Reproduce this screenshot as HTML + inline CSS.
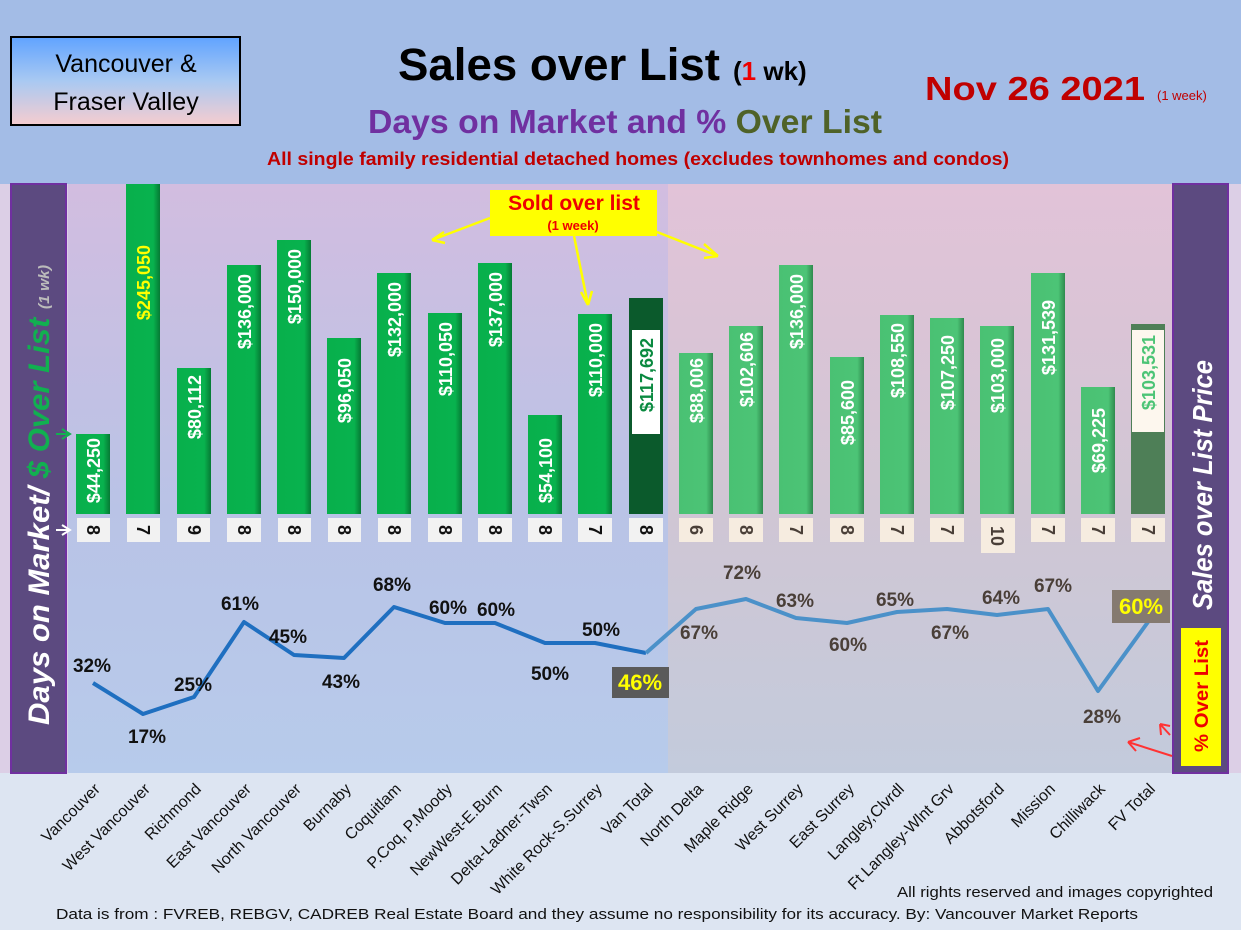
<!DOCTYPE html>
<html><head><meta charset="utf-8"><style>
html,body{margin:0;padding:0;width:1241px;height:930px;overflow:hidden;background:#dde5f2}
svg{display:block;font-family:"Liberation Sans",sans-serif}
.v{font-size:18px;font-weight:bold;fill:#fff}
.d{font-size:18px;font-weight:bold;fill:#111}
.p{font-size:19px;font-weight:bold;fill:#111}
.q{font-size:19px;font-weight:bold;fill:#4a3f38}
.l{font-size:16px;fill:#111}
</style></head><body>
<svg width="1241" height="930" viewBox="0 0 1241 930">
<defs>
<linearGradient id="hb" x1="0" y1="0" x2="0" y2="1"><stop offset="0" stop-color="#60a3ff"/><stop offset="0.5" stop-color="#a9c9f2"/><stop offset="1" stop-color="#f6cccf"/></linearGradient>
<linearGradient id="lp" x1="0" y1="0" x2="0" y2="1"><stop offset="0" stop-color="#d2bde0"/><stop offset="0.55" stop-color="#b9c3e6"/><stop offset="1" stop-color="#b7cbeb"/></linearGradient>
<linearGradient id="rp" x1="0" y1="0" x2="0" y2="1"><stop offset="0" stop-color="#e2c3d8"/><stop offset="0.55" stop-color="#d0c6d4"/><stop offset="1" stop-color="#c3cbdc"/></linearGradient>
<linearGradient id="g1" x1="0" y1="0" x2="1" y2="0"><stop offset="0" stop-color="#08b04c"/><stop offset="0.8" stop-color="#08b24e"/><stop offset="1" stop-color="#067a34"/></linearGradient>
<linearGradient id="g2" x1="0" y1="0" x2="1" y2="0"><stop offset="0" stop-color="#4ac173"/><stop offset="0.8" stop-color="#4cc476"/><stop offset="1" stop-color="#2f8a4e"/></linearGradient>
</defs>
<rect x="0" y="0" width="1241" height="184" fill="#a3bce6"/>
<rect x="0" y="184" width="1241" height="590" fill="#dccfe6"/>
<rect x="68" y="184" width="600" height="589" fill="url(#lp)"/>
<rect x="668" y="184" width="505" height="589" fill="url(#rp)"/>
<rect x="0" y="773" width="1241" height="157" fill="#dde5f2"/>

<rect x="11" y="37" width="229" height="88" fill="url(#hb)" stroke="#000" stroke-width="2"/>
<text x="126" y="72" font-size="25" text-anchor="middle">Vancouver &amp;</text>
<text x="126" y="110" font-size="25" text-anchor="middle">Fraser Valley</text>
<text x="398" y="80" font-size="45" font-weight="bold" textLength="322" lengthAdjust="spacingAndGlyphs">Sales over List</text>
<text x="733" y="80" font-size="26" font-weight="bold">(<tspan fill="#e00">1</tspan> wk)</text>
<text x="368" y="133" font-size="33" font-weight="bold" fill="#7030a0" textLength="514" lengthAdjust="spacingAndGlyphs">Days on Market and % <tspan fill="#4f6228">Over List</tspan></text>
<text x="267" y="165" font-size="18" font-weight="bold" fill="#c00000" textLength="742" lengthAdjust="spacingAndGlyphs">All single family residential detached homes (excludes townhomes and condos)</text>
<text x="925" y="100" font-size="33" font-weight="bold" fill="#c00000" textLength="220" lengthAdjust="spacingAndGlyphs">Nov 26  2021</text>
<text x="1157" y="100" font-size="13" fill="#c00000">(1 week)</text>

<rect x="11" y="184" width="55" height="589" fill="#5c4a80" stroke="#7030a0" stroke-width="2"/>
<text transform="translate(49,725) rotate(-90)" font-size="30" font-weight="bold" font-style="italic" fill="#fff" textLength="460" lengthAdjust="spacingAndGlyphs">Days on Market/ <tspan fill="#11b050">$ Over List</tspan> <tspan font-size="15" fill="#bbb">(1 wk)</tspan></text>
<rect x="1173" y="184" width="55" height="589" fill="#5c4a80" stroke="#7030a0" stroke-width="2"/>
<text transform="translate(1212,610) rotate(-90)" font-size="28" font-weight="bold" font-style="italic" fill="#fff" textLength="250" lengthAdjust="spacingAndGlyphs">Sales over List Price</text>
<rect x="1181" y="628" width="40" height="138" fill="#ffff00"/>
<text transform="translate(1208,752) rotate(-90)" font-size="19" font-weight="bold" fill="#e00" textLength="112" lengthAdjust="spacingAndGlyphs">% Over List</text>
<path d="M1172 756 L1128 742 M1128 742 L1140 738 M1128 742 L1136 751 M1170 735 L1160 724 M1160 724 L1161 735 M1160 724 L1170 726" stroke="#f33" stroke-width="2" fill="none"/>
<path d="M56 434 L70 434 M62 429 L70 434 L62 439" stroke="#11b050" stroke-width="2" fill="none"/>
<path d="M56 530 L70 530 M62 525 L70 530 L62 535" stroke="#fff" stroke-width="2" fill="none"/>

<g>
<rect x="76" y="434" width="34" height="80" fill="url(#g1)"/>
<rect x="126" y="184" width="34" height="330" fill="url(#g1)"/>
<rect x="177" y="368" width="34" height="146" fill="url(#g1)"/>
<rect x="227" y="265" width="34" height="249" fill="url(#g1)"/>
<rect x="277" y="240" width="34" height="274" fill="url(#g1)"/>
<rect x="327" y="338" width="34" height="176" fill="url(#g1)"/>
<rect x="377" y="273" width="34" height="241" fill="url(#g1)"/>
<rect x="428" y="313" width="34" height="201" fill="url(#g1)"/>
<rect x="478" y="263" width="34" height="251" fill="url(#g1)"/>
<rect x="528" y="415" width="34" height="99" fill="url(#g1)"/>
<rect x="578" y="314" width="34" height="200" fill="url(#g1)"/>
<rect x="629" y="298" width="34" height="216" fill="#0b5a2c"/>
<rect x="679" y="353" width="34" height="161" fill="url(#g2)"/>
<rect x="729" y="326" width="34" height="188" fill="url(#g2)"/>
<rect x="779" y="265" width="34" height="249" fill="url(#g2)"/>
<rect x="830" y="357" width="34" height="157" fill="url(#g2)"/>
<rect x="880" y="315" width="34" height="199" fill="url(#g2)"/>
<rect x="930" y="318" width="34" height="196" fill="url(#g2)"/>
<rect x="980" y="326" width="34" height="188" fill="url(#g2)"/>
<rect x="1031" y="273" width="34" height="241" fill="url(#g2)"/>
<rect x="1081" y="387" width="34" height="127" fill="url(#g2)"/>
<rect x="1131" y="324" width="34" height="190" fill="#4e7f57"/>
<rect x="632" y="330" width="28" height="104" fill="#fff"/>
<rect x="1132" y="330" width="32" height="102" fill="#fdf7ee"/>
</g>
<g class="v">
<text transform="translate(100,438) rotate(-90)" text-anchor="end">$44,250</text>
<text transform="translate(150,245) rotate(-90)" text-anchor="end" fill="#ffff00">$245,050</text>
<text transform="translate(201,375) rotate(-90)" text-anchor="end">$80,112</text>
<text transform="translate(251,274) rotate(-90)" text-anchor="end">$136,000</text>
<text transform="translate(301,249) rotate(-90)" text-anchor="end">$150,000</text>
<text transform="translate(351,358) rotate(-90)" text-anchor="end">$96,050</text>
<text transform="translate(401,282) rotate(-90)" text-anchor="end">$132,000</text>
<text transform="translate(452,322) rotate(-90)" text-anchor="end">$110,050</text>
<text transform="translate(502,272) rotate(-90)" text-anchor="end">$137,000</text>
<text transform="translate(552,438) rotate(-90)" text-anchor="end">$54,100</text>
<text transform="translate(602,323) rotate(-90)" text-anchor="end">$110,000</text>
<text transform="translate(653,338) rotate(-90)" text-anchor="end" fill="#0a8a40">$117,692</text>
<text transform="translate(703,358) rotate(-90)" text-anchor="end">$88,006</text>
<text transform="translate(753,332) rotate(-90)" text-anchor="end">$102,606</text>
<text transform="translate(803,274) rotate(-90)" text-anchor="end">$136,000</text>
<text transform="translate(854,380) rotate(-90)" text-anchor="end">$85,600</text>
<text transform="translate(904,323) rotate(-90)" text-anchor="end">$108,550</text>
<text transform="translate(954,335) rotate(-90)" text-anchor="end">$107,250</text>
<text transform="translate(1004,338) rotate(-90)" text-anchor="end">$103,000</text>
<text transform="translate(1055,300) rotate(-90)" text-anchor="end">$131,539</text>
<text transform="translate(1105,408) rotate(-90)" text-anchor="end">$69,225</text>
<text transform="translate(1155,335) rotate(-90)" text-anchor="end" fill="#4cc476">$103,531</text>
</g>

<g fill="#f2f2f2">
<rect x="77" y="518" width="33" height="24"/><rect x="127" y="518" width="33" height="24"/><rect x="177" y="518" width="33" height="24"/><rect x="227" y="518" width="34" height="24"/><rect x="278" y="518" width="33" height="24"/><rect x="328" y="518" width="33" height="24"/><rect x="378" y="518" width="33" height="24"/><rect x="428" y="518" width="34" height="24"/><rect x="478" y="518" width="34" height="24"/><rect x="528" y="518" width="34" height="24"/><rect x="578" y="518" width="34" height="24"/><rect x="629" y="518" width="34" height="24"/>
</g>
<g fill="#f6ece0">
<rect x="679" y="518" width="34" height="24"/><rect x="729" y="518" width="34" height="24"/><rect x="779" y="518" width="34" height="24"/><rect x="830" y="518" width="34" height="24"/><rect x="880" y="518" width="34" height="24"/><rect x="930" y="518" width="34" height="24"/><rect x="981" y="518" width="34" height="35"/><rect x="1031" y="518" width="34" height="24"/><rect x="1081" y="518" width="34" height="24"/><rect x="1131" y="518" width="34" height="24"/>
</g>
<g class="d" text-anchor="middle">
<text transform="translate(87,530) rotate(90)">8</text>
<text transform="translate(137,530) rotate(90)">7</text>
<text transform="translate(188,530) rotate(90)">9</text>
<text transform="translate(238,530) rotate(90)">8</text>
<text transform="translate(288,530) rotate(90)">8</text>
<text transform="translate(338,530) rotate(90)">8</text>
<text transform="translate(388,530) rotate(90)">8</text>
<text transform="translate(439,530) rotate(90)">8</text>
<text transform="translate(489,530) rotate(90)">8</text>
<text transform="translate(539,530) rotate(90)">8</text>
<text transform="translate(589,530) rotate(90)">7</text>
<text transform="translate(640,530) rotate(90)">8</text>
<text transform="translate(690,530) rotate(90)" fill="#4a3f38">6</text>
<text transform="translate(740,530) rotate(90)" fill="#4a3f38">8</text>
<text transform="translate(790,530) rotate(90)" fill="#4a3f38">7</text>
<text transform="translate(841,530) rotate(90)" fill="#4a3f38">8</text>
<text transform="translate(891,530) rotate(90)" fill="#4a3f38">7</text>
<text transform="translate(941,530) rotate(90)" fill="#4a3f38">7</text>
<text transform="translate(991,536) rotate(90)" fill="#4a3f38">10</text>
<text transform="translate(1042,530) rotate(90)" fill="#4a3f38">7</text>
<text transform="translate(1092,530) rotate(90)" fill="#4a3f38">7</text>
<text transform="translate(1142,530) rotate(90)" fill="#4a3f38">7</text>
</g>

<polyline points="93,683 143,714 194,697 244,622 294,655 344,658 394,607 445,623 495,623 545,643 595,643 646,653" fill="none" stroke="#1f6fc0" stroke-width="4" stroke-linejoin="round"/>
<polyline points="646,653 696,609 746,599 796,618 847,623 897,612 947,609 997,615 1048,609 1098,691 1148,622" fill="none" stroke="#4b91c9" stroke-width="4" stroke-linejoin="round"/>
<rect x="612" y="667" width="57" height="31" fill="#5a5a5a"/>
<rect x="1112" y="590" width="58" height="33" fill="#857a70"/>
<g class="p" text-anchor="middle">
<text x="92" y="672">32%</text><text x="147" y="743">17%</text><text x="193" y="691">25%</text><text x="240" y="610">61%</text><text x="288" y="643">45%</text><text x="341" y="688">43%</text><text x="392" y="591">68%</text><text x="448" y="614">60%</text><text x="496" y="616">60%</text><text x="550" y="680">50%</text><text x="601" y="636">50%</text>
<text x="640" y="690" fill="#ffff00" font-size="22">46%</text>
</g>
<g class="q" text-anchor="middle">
<text x="699" y="639">67%</text><text x="742" y="579">72%</text><text x="795" y="607">63%</text><text x="848" y="651">60%</text><text x="895" y="606">65%</text><text x="950" y="639">67%</text><text x="1001" y="604">64%</text><text x="1053" y="592">67%</text><text x="1102" y="723">28%</text>
<text x="1141" y="614" fill="#ffff00" font-size="22">60%</text>
</g>

<rect x="490" y="190" width="167" height="46" fill="#ffff00"/>
<text x="574" y="210" font-size="21" font-weight="bold" fill="#e00" text-anchor="middle">Sold over list</text>
<text x="573" y="230" font-size="13" font-weight="bold" fill="#e00" text-anchor="middle">(1 week)</text>
<g stroke="#ffff00" stroke-width="2.5" fill="none">
<path d="M490 218 L432 240 M432 240 L444 232 M432 240 L445 243"/>
<path d="M574 236 L588 305 M588 305 L581 292 M588 305 L592 291"/>
<path d="M657 232 L718 256 M718 256 L704 244 M718 256 L704 258"/>
</g>

<g class="l" text-anchor="end">
<text transform="translate(101,790) rotate(-45)">Vancouver</text>
<text transform="translate(151,790) rotate(-45)">West Vancouver</text>
<text transform="translate(202,790) rotate(-45)">Richmond</text>
<text transform="translate(252,790) rotate(-45)">East Vancouver</text>
<text transform="translate(302,790) rotate(-45)">North Vancouver</text>
<text transform="translate(352,790) rotate(-45)">Burnaby</text>
<text transform="translate(402,790) rotate(-45)">Coquitlam</text>
<text transform="translate(453,790) rotate(-45)">P.Coq, P.Moody</text>
<text transform="translate(503,790) rotate(-45)">NewWest-E.Burn</text>
<text transform="translate(553,790) rotate(-45)">Delta-Ladner-Twsn</text>
<text transform="translate(603,790) rotate(-45)">White Rock-S.Surrey</text>
<text transform="translate(654,790) rotate(-45)">Van Total</text>
<text transform="translate(704,790) rotate(-45)">North Delta</text>
<text transform="translate(754,790) rotate(-45)">Maple Ridge</text>
<text transform="translate(804,790) rotate(-45)">West Surrey</text>
<text transform="translate(855,790) rotate(-45)">East Surrey</text>
<text transform="translate(905,790) rotate(-45)">Langley,Clvrdl</text>
<text transform="translate(955,790) rotate(-45)">Ft Langley-Wlnt Grv</text>
<text transform="translate(1005,790) rotate(-45)">Abbotsford</text>
<text transform="translate(1056,790) rotate(-45)">Mission</text>
<text transform="translate(1106,790) rotate(-45)">Chilliwack</text>
<text transform="translate(1156,790) rotate(-45)">FV Total</text>
</g>
<text x="897" y="897" font-size="15" fill="#111" textLength="316" lengthAdjust="spacingAndGlyphs">All rights reserved and  images copyrighted</text>
<text x="56" y="919" font-size="15" fill="#111" textLength="1082" lengthAdjust="spacingAndGlyphs">Data is from : FVREB, REBGV, CADREB Real Estate Board and they assume no responsibility for its accuracy. By: Vancouver Market Reports</text>
</svg>
</body></html>
